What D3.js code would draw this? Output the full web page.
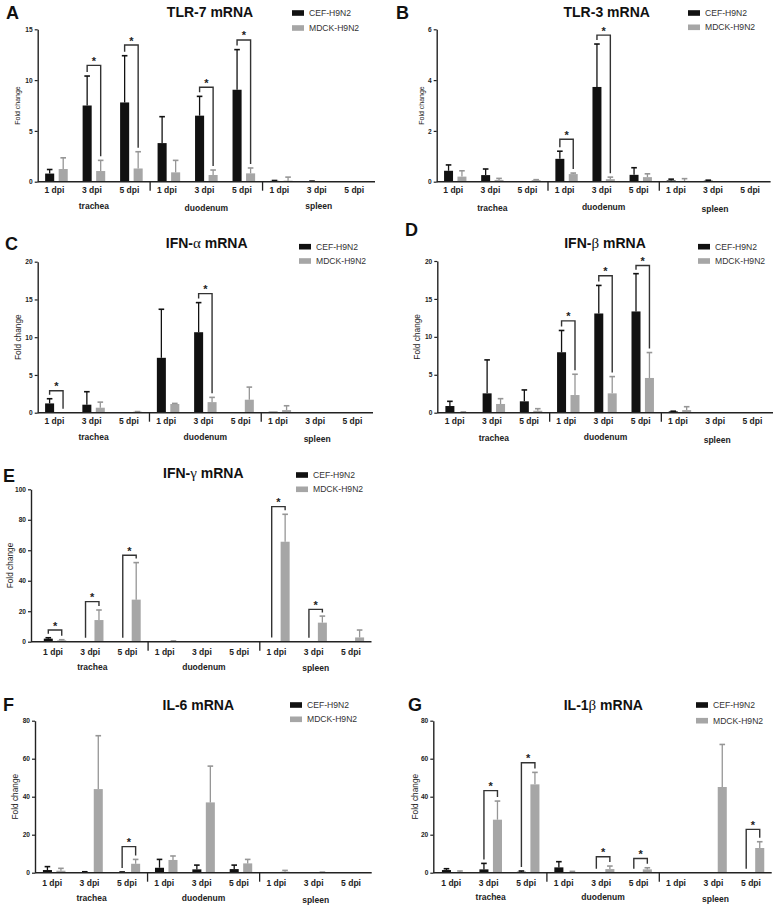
<!DOCTYPE html>
<html><head><meta charset="utf-8">
<script src="https://cdn.jsdelivr.net/npm/d3@7"></script>
<style>body{margin:0;background:#fff}svg{display:block}</style>
</head><body><svg id="c" width="779" height="910"></svg>
<script>
// ---------- DATA ----------
const timepoints = ["1 dpi","3 dpi","5 dpi"];
const tissues = ["trachea","duodenum","spleen"];
const categories = tissues.flatMap(t => timepoints.map(p => t + "|" + p));
const seriesNames = ["CEF-H9N2","MDCK-H9N2"];

// A  TLR-7
const tlr7Cef     = [0.8, 7.5, 7.8, 3.8, 6.5, 9.05, 0.08, 0.04, 0.02];
const tlr7CefErr  = [0.4, 2.9, 4.6, 2.6, 1.9, 3.95, 0.04, 0.02, 0];
const tlr7Mdck    = [1.25, 1.05, 1.3, 0.92, 0.66, 0.82, 0.1, 0, 0];
const tlr7MdckErr = [1.1, 1.05, 1.65, 1.18, 0.49, 0.53, 0.35, 0, 0];
const tlr7Sig     = [[1, 11.45], [2, 13.45], [4, 9.3], [5, 13.95]];
const tlr7Ticks   = [0, 5, 10, 15];

// B  TLR-3
const tlr3Cef     = [0.43, 0.26, 0.02, 0.9, 3.73, 0.27, 0.05, 0.04, 0];
const tlr3CefErr  = [0.23, 0.24, 0, 0.3, 1.69, 0.28, 0.05, 0.02, 0];
const tlr3Mdck    = [0.2, 0.07, 0.06, 0.3, 0.1, 0.18, 0.03, 0, 0];
const tlr3MdckErr = [0.23, 0.06, 0.02, 0.04, 0.08, 0.13, 0.09, 0, 0];
const tlr3Sig     = [[3, 1.67], [4, 5.77]];
const tlr3Ticks   = [0, 2, 4, 6];

// C  IFN-alpha
const ifnaCef     = [1.23, 1.06, 0, 7.27, 10.66, 0, 0.13, 0, 0];
const ifnaCefErr  = [0.62, 1.72, 0, 6.43, 3.92, 0, 0, 0, 0];
const ifnaMdck    = [0, 0.66, 0.13, 1.15, 1.4, 1.72, 0.35, 0, 0];
const ifnaMdckErr = [0, 0.74, 0.02, 0.08, 0.63, 1.67, 0.57, 0, 0];
const ifnaSig     = [[0, 2.9], [4, 15.77]];
const ifnaTicks   = [0, 5, 10, 15, 20];

// D  IFN-beta
const ifnbCef     = [0.88, 2.55, 1.5, 7.97, 13.08, 13.35, 0.18, 0.04, 0.03];
const ifnbCefErr  = [0.62, 4.41, 1.5, 2.87, 3.7, 4.98, 0.02, 0, 0];
const ifnbMdck    = [0.09, 1.15, 0.26, 2.33, 2.55, 4.58, 0.35, 0.02, 0];
const ifnbMdckErr = [0.01, 0.7, 0.27, 2.74, 2.21, 3.35, 0.44, 0, 0];
const ifnbSig     = [[3, 12.1], [4, 18.06], [5, 19.4]];
const ifnbTicks   = [0, 5, 10, 15, 20];

// E  IFN-gamma
const ifngCef     = [2.0, 0, 0, 0, 0, 0, 0.2, 0, 0];
const ifngCefErr  = [0.6, 0, 0, 0, 0, 0, 0, 0, 0];
const ifngMdck    = [0.9, 14.2, 27.6, 0.3, 0.1, 0, 65.6, 12.5, 2.8];
const ifngMdckErr = [0.4, 6.6, 24.3, 0.2, 0, 0, 18.0, 4.3, 4.86];
const ifngSig     = [[0, 7.66], [1, 26.3], [2, 56.7], [6, 88.6], [7, 21.2]];
const ifngTicks   = [0, 20, 40, 60, 80, 100];

// F  IL-6
const il6Cef      = [1.4, 0.35, 0.35, 2.6, 1.75, 1.9, 0.1, 0.1, 0.1];
const il6CefErr   = [1.8, 0.15, 0.05, 4.4, 2.25, 2.1, 0, 0, 0];
const il6Mdck     = [1.05, 44, 4.7, 6.7, 37, 4.9, 0.5, 0.15, 0];
const il6MdckErr  = [1.25, 28.1, 2.3, 2.1, 19.1, 2.1, 0.7, 0.15, 0];
const il6Sig      = [[2, 13.7]];
const il6Ticks    = [0, 20, 40, 60, 80];

// G  IL-1beta
const il1bCef     = [1.4, 1.75, 0.5, 2.8, 0, 0, 0.1, 0, 0];
const il1bCefErr  = [0.7, 3.15, 0.4, 3.0, 0, 0, 0, 0, 0];
const il1bMdck    = [0.2, 27.9, 46.5, 0.35, 1.9, 1.75, 0.1, 45.1, 13];
const il1bMdckErr = [0.7, 9.8, 6.3, 0.35, 1.6, 0.85, 0, 22.4, 3.3];
const il1bSig     = [[1, 43.2], [2, 57.9], [4, 8.4], [5, 7.5], [8, 22.8]];
const il1bTicks   = [0, 20, 40, 60, 80];

const panels = [
  {letter:"A", title:["TLR-7 mRNA","",""], values:[tlr7Cef, tlr7Mdck], errors:[tlr7CefErr, tlr7MdckErr], sig:tlr7Sig, ticks:tlr7Ticks},
  {letter:"B", title:["TLR-3 mRNA","",""], values:[tlr3Cef, tlr3Mdck], errors:[tlr3CefErr, tlr3MdckErr], sig:tlr3Sig, ticks:tlr3Ticks},
  {letter:"C", title:["IFN-","α"," mRNA"], values:[ifnaCef, ifnaMdck], errors:[ifnaCefErr, ifnaMdckErr], sig:ifnaSig, ticks:ifnaTicks},
  {letter:"D", title:["IFN-","β"," mRNA"], values:[ifnbCef, ifnbMdck], errors:[ifnbCefErr, ifnbMdckErr], sig:ifnbSig, ticks:ifnbTicks},
  {letter:"E", title:["IFN-","γ"," mRNA"], values:[ifngCef, ifngMdck], errors:[ifngCefErr, ifngMdckErr], sig:ifngSig, ticks:ifngTicks},
  {letter:"F", title:["IL-6 mRNA","",""], values:[il6Cef, il6Mdck], errors:[il6CefErr, il6MdckErr], sig:il6Sig, ticks:il6Ticks},
  {letter:"G", title:["IL-1","β"," mRNA"], values:[il1bCef, il1bMdck], errors:[il1bCefErr, il1bMdckErr], sig:il1bSig, ticks:il1bTicks}
];

// ---------- LAYOUT ----------
const layouts = {
  A:{ax:37.7, b0:37.7, b1:375, yb:181.7, yt:29.3, tx:210, ty:12, lx:292, ly:[13,28], letX:6, letY:13, ylx:18, tky:190, gy:[205.7,208.3,205.7], small:true},
  B:{ax:436.7, b0:436.7, b1:770.6, yb:181.7, yt:29.3, tx:606.7, ty:12, lx:688, ly:[13,27.3], letX:396, letY:13, ylx:422, tky:190, gy:[208.3,206.7,209.3], small:true},
  C:{ax:37.7, b0:37.7, b1:373, yb:412.7, yt:261.7, tx:206.7, ty:243.3, lx:299, ly:[246.7,261], letX:5, letY:243.3, ylx:18.3, tky:421, gy:[436.7,436.7,439]},
  D:{ax:437.3, b0:438, b1:773, yb:412.7, yt:261, tx:605, ty:243.3, lx:698, ly:[246.7,261], letX:405, letY:230, ylx:416.7, tky:421, gy:[438.3,437.3,440]},
  E:{ax:31, b0:36.4, b1:371.5, yb:641.7, yt:489.3, tx:203.3, ty:473.3, lx:296, ly:[475,489.3], letX:3, letY:476, ylx:10, tky:651.7, gy:[666.7,666.7,668.3]},
  F:{ax:35, b0:35.5, b1:371.7, yb:872.7, yt:720.7, tx:198.3, ty:705, lx:290, ly:[705,719.3], letX:3, letY:705, ylx:15, tky:882.7, gy:[898.3,898.3,900]},
  G:{ax:433.3, b0:434.5, b1:771.7, yb:872.7, yt:720.7, tx:603.3, ty:705, lx:696, ly:[705,720.7], letX:408, letY:705, ylx:415, tky:882.7, gy:[896.7,896.7,899.3]}
};

const barColors = ["#111111", "#a6a6a6"];
const errColors = ["#111111", "#969696"];
const FONT = "'Liberation Sans', Arial, sans-serif";

const svg = d3.select("#c");
svg.append("rect").attr("width",779).attr("height",910).attr("fill","#fff");

function drawPanel(p) {
  const L = layouts[p.letter];
  const g = svg.append("g").attr("font-family", FONT);
  const x = d3.scaleBand().domain(categories).range([L.b0, L.b1]);
  const xs = d3.scaleBand().domain(seriesNames).range([0, x.bandwidth()]).paddingInner(0.33).paddingOuter(0.55);
  const y = d3.scaleLinear().domain([0, d3.max(p.ticks)]).range([L.yb, L.yt]);
  const bw = xs.bandwidth();

  // bars + error bars
  seriesNames.forEach((s, si) => {
    const vals = p.values[si], errs = p.errors[si];
    g.append("g").selectAll("rect").data(categories).enter().append("rect")
      .attr("x", c => x(c) + xs(s))
      .attr("width", bw)
      .attr("y", (c, i) => y(vals[i]))
      .attr("height", (c, i) => Math.max(0, y(0) - y(vals[i])))
      .attr("fill", barColors[si]);
    const eg = g.append("g").attr("stroke", errColors[si]).attr("stroke-width", 1.3).attr("fill","none");
    categories.forEach((c, i) => {
      if (!(errs[i] > 0)) return;
      const cx = x(c) + xs(s) + bw / 2;
      const y1 = y(vals[i]), y2 = y(vals[i] + errs[i]);
      eg.append("line").attr("x1", cx).attr("x2", cx).attr("y1", y1).attr("y2", y2);
      eg.append("line").attr("x1", cx - 2.8).attr("x2", cx + 2.8).attr("y1", y2).attr("y2", y2).attr("stroke-width", 1.6);
    });
  });

  // y axis
  const yAxis = d3.axisLeft(y).tickValues(p.ticks).tickFormat(d3.format("d")).tickSize(3).tickSizeOuter(0).tickPadding(2);
  const ya = g.append("g").attr("transform", `translate(${L.ax},0)`).call(yAxis);
  ya.select(".domain").attr("stroke", "#222").attr("stroke-width", 1.4);
  ya.selectAll(".tick line").attr("stroke", "#222").attr("stroke-width", 1.2);
  ya.selectAll(".tick text").attr("font-family", FONT).attr("font-size", 6.6).attr("font-weight", "bold").attr("fill", "#222");

  // x axis line
  g.append("line").attr("x1", L.ax).attr("x2", L.b1).attr("y1", L.yb).attr("y2", L.yb)
    .attr("stroke", "#222").attr("stroke-width", 1.4);
  // x tick labels
  const xAxis = d3.axisBottom(x).tickSize(0).tickPadding(0).tickFormat(c => c.split("|")[1]);
  const xa = g.append("g").attr("transform", `translate(-2,${L.tky})`).call(xAxis);
  xa.select(".domain").remove();
  xa.selectAll(".tick text").attr("font-family", FONT).attr("font-size", 8.5).attr("font-weight", "bold")
    .attr("fill", "#222").attr("dy", "0.35em");
  // group separators
  [3, 6].forEach(k => {
    const sx = x(categories[k]);
    g.append("line").attr("x1", sx).attr("x2", sx).attr("y1", L.yb).attr("y2", L.yb + 9)
      .attr("stroke", "#222").attr("stroke-width", 1.3);
  });
  // group labels
  tissues.forEach((t, ti) => {
    const c = categories[ti * 3 + 1];
    g.append("text").attr("x", x(c) + x.bandwidth() / 2).attr("y", L.gy[ti]).attr("dy", "0.35em")
      .attr("text-anchor", "middle").attr("font-size", 8.5).attr("font-weight", "bold").attr("fill", "#222").text(t);
  });

  // y title
  g.append("text").attr("transform", `translate(${L.ylx},${(L.yb + L.yt) / 2}) rotate(-90)`)
    .attr("text-anchor", "middle").attr("dy", "0.35em").attr("font-size", L.small ? 7 : 8.3)
    .attr("fill", "#222").text("Fold change");

  // significance brackets
  const bg = g.append("g").attr("stroke", "#333").attr("stroke-width", 1.4).attr("fill", "none");
  p.sig.forEach(([i, top]) => {
    const c = categories[i];
    const xl = x(c) + xs(seriesNames[0]) + bw / 2;
    const xr = x(c) + xs(seriesNames[1]) + bw / 2;
    const yTop = y(top);
    const lb = Math.max(yTop + 3, y(p.values[0][i] + p.errors[0][i]) - 4);
    const rb = Math.max(yTop + 3, y(p.values[1][i] + p.errors[1][i]) - 4);
    bg.append("path").attr("d", `M${xl},${lb}V${yTop}H${xr}V${rb}`);
    g.append("text").attr("x", (xl + xr) / 2).attr("y", yTop - 0.5).attr("text-anchor", "middle")
      .attr("font-size", 11).attr("font-weight", "bold").attr("fill", "#222").text("*");
  });

  // title
  const tt = g.append("text").attr("x", L.tx).attr("y", L.ty).attr("dy", "0.35em").attr("text-anchor", "middle")
    .attr("font-size", 14).attr("font-weight", "bold").attr("fill", "#111");
  tt.append("tspan").text(p.title[0]);
  if (p.title[1]) tt.append("tspan").attr("font-family", "'Liberation Serif', serif").attr("font-weight", "normal").attr("font-size", 15).text(p.title[1]);
  if (p.title[2]) tt.append("tspan").text(p.title[2]);

  // legend
  seriesNames.forEach((s, si) => {
    g.append("rect").attr("x", L.lx).attr("y", L.ly[si] - 2.8).attr("width", 12).attr("height", 5.6).attr("fill", barColors[si]);
    g.append("text").attr("x", L.lx + 17).attr("y", L.ly[si]).attr("dy", "0.35em")
      .attr("font-size", 8.6).attr("fill", "#333").text(s);
  });

  // panel letter
  g.append("text").attr("x", L.letX).attr("y", L.letY).attr("dy", "0.36em")
    .attr("font-size", 18).attr("font-weight", "bold").attr("fill", "#111").text(p.letter);
}

panels.forEach(drawPanel);
</script></body></html>
